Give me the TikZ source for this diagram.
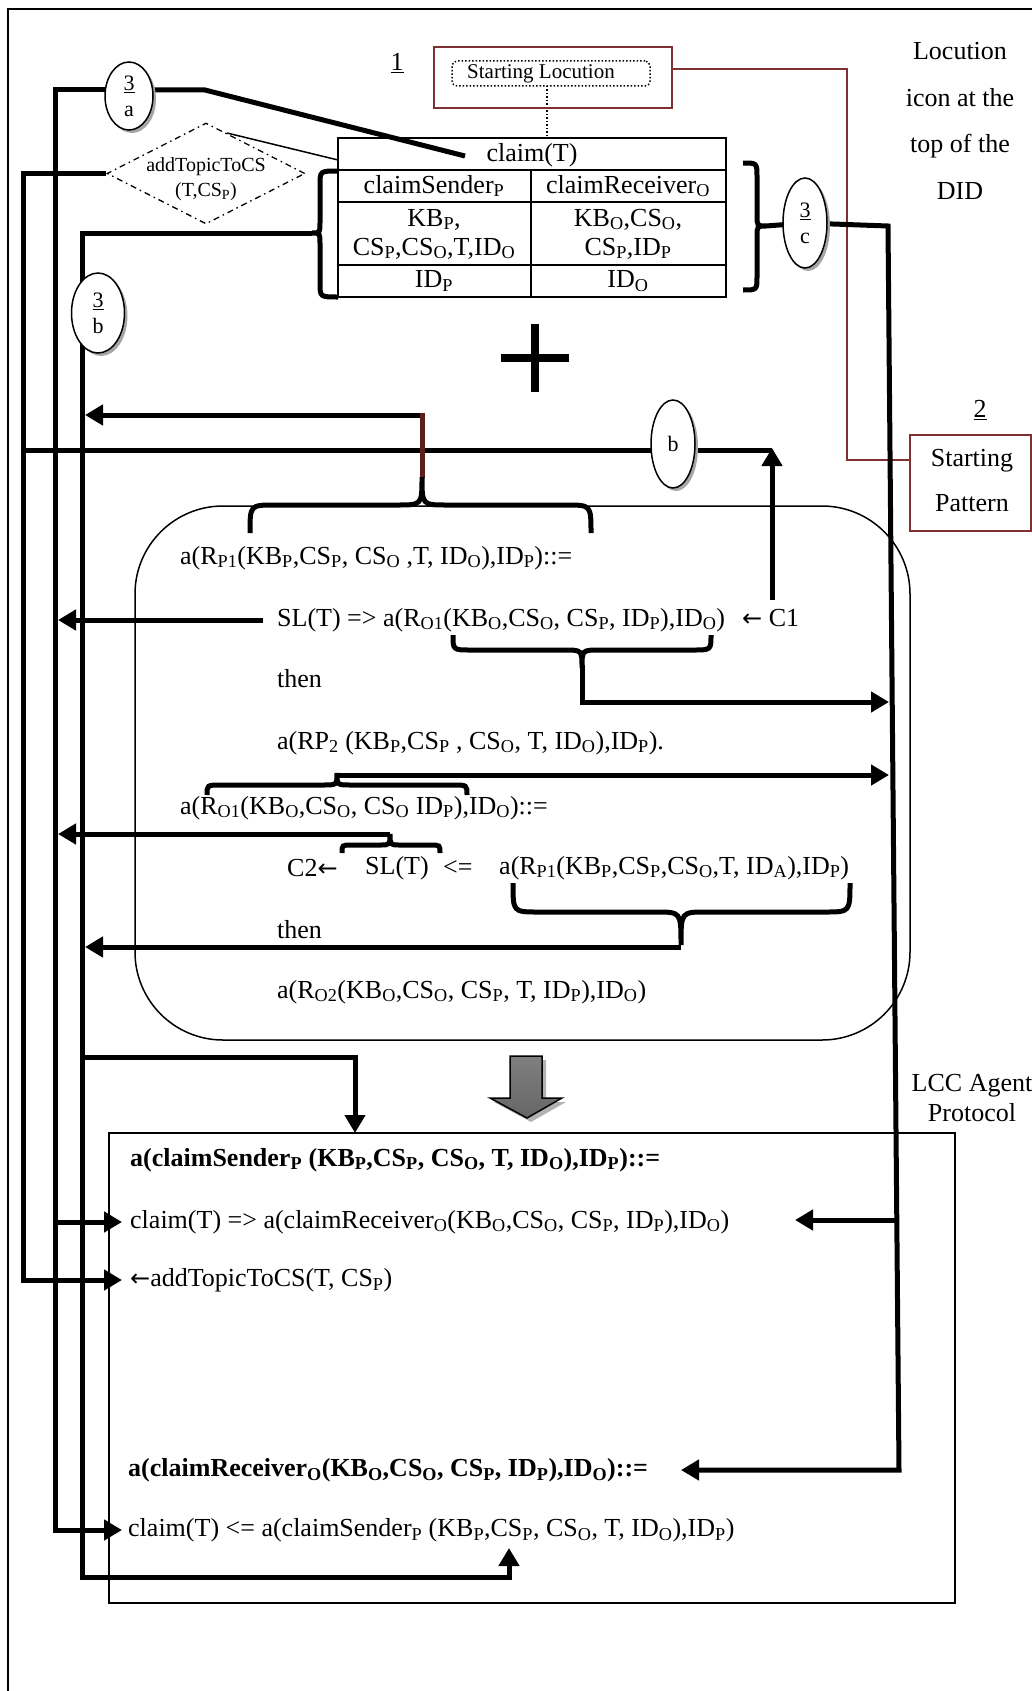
\documentclass[tikz,border=0pt]{standalone}
\usepackage{fontspec}
\setmainfont{Liberation Serif}
\newfontfamily\arrfont{DejaVu Sans}
\usetikzlibrary{arrows.meta,shapes.geometric,shadows}
\definecolor{brn}{RGB}{128,48,48}
\definecolor{dbrn}{RGB}{95,30,30}
\newcommand\sbs[1]{\textsubscript{#1}}
\newcommand\fsz[1]{\fontsize{#1pt}{#1pt}\selectfont}
\newcommand\larr{{\arrfont\fontsize{24pt}{24pt}\selectfont ←}}
\pgfdeclarelayer{bg}
\pgfsetlayers{bg,main}
\newcommand\hbrc[7]{\draw[brc] (#1,#4) .. controls (#1,#5) .. ({#1+#7},#5) -- ({#3-#7},#5) .. controls (#3,#5) .. (#3,#6) .. controls (#3,#5) .. ({#3+#7},#5) -- ({#2-#7},#5) .. controls (#2,#5) .. (#2,#4);}
\tikzset{
  conn/.style={line width=5pt},
  arr/.style={line width=5pt,-{Triangle[length=18pt,width=20pt]}},
  brc/.style={line width=5pt},
  txt/.style={anchor=west,font=\fsz{26},inner sep=0pt},
  tb/.style={font=\fontsize{26pt}{29pt}\selectfont,inner sep=0pt,align=center},
  ell/.style={ellipse,draw,line width=1.5pt,fill=white,inner sep=0pt,
    font=\fontsize{22pt}{26pt}\selectfont,align=center,
    drop shadow={shadow xshift=3pt,shadow yshift=-3pt,fill=gray!70,opacity=1}},
}
\begin{document}
\begin{tikzpicture}[x=1pt,y=-1pt]
\useasboundingbox (0,0) rectangle (1032,1691);
% outer frame
\draw[line width=2pt] (8,1700) -- (8,9) -- (1040,9);

% ---------- top: locution ----------
\node[font=\fsz{26}] (n1) at (397,63) {\underline{1}};
\node[draw=brn,line width=1.5pt,minimum width=238pt,minimum height=61pt,inner sep=0pt] (slbox) at (553,77.5) {};
\node[draw,dotted,line width=1.5pt,rounded corners=5pt,minimum width=198pt,minimum height=25pt,inner sep=0pt] (slin) at (551,73.5) {};
\node[font=\fsz{21},inner sep=0pt] (sltxt) at (541,74) {Starting Locution};
\node[font=\fontsize{26pt}{46.7pt}\selectfont,align=center,inner sep=0pt] (loc) at (960,121) {Locution\\icon at the\\top of the\\DID};

% table
\node[draw,line width=2pt,minimum width=388pt,minimum height=159pt,inner sep=0pt] (tbl) at (532,217.5) {};
\draw[line width=2pt] (338,170) -- (726,170) (338,202) -- (726,202) (338,265) -- (726,265) (531,170) -- (531,297);
\node[tb] (tc) at (532,155) {claim(T)};
\node[tb] (ts) at (434,186) {claimSender\sbs{P}};
\node[tb] (tr) at (628,186) {claimReceiver\sbs{O}};
\node[tb] (tsk) at (434,234) {KB\sbs{P},\\CS\sbs{P},CS\sbs{O},T,ID\sbs{O}};
\node[tb] (trk) at (628,234) {KB\sbs{O},CS\sbs{O},\\CS\sbs{P},ID\sbs{P}};
\node[tb] (tsi) at (434,281) {ID\sbs{P}};
\node[tb] (tri) at (628,281) {ID\sbs{O}};

% diamond
\node[diamond,draw,line width=1.3pt,dash pattern=on 6pt off 4pt on 1.5pt off 4pt,minimum width=198pt,minimum height=101pt,inner sep=0pt] (dia) at (206,173.5) {};
\node[font=\fontsize{20pt}{25pt}\selectfont,align=center,inner sep=0pt] (diatxt) at (206,179) {addTopicToCS\\(T,CS\sbs{P})};

% ellipses
\node[ell,minimum width=48pt,minimum height=68pt] (e3a) at (129,96) {\underline{3}\\a};
\node[ell,minimum width=53pt,minimum height=80pt] (e3b) at (98,313) {\underline{3}\\b};
\node[ell,minimum width=44pt,minimum height=90pt] (e3c) at (805,223) {\underline{3}\\c};
\node[ell,minimum width=44pt,minimum height=88pt] (eb) at (673,444) {b};

% plus
\fill (531,324) rectangle (539,392);
\fill (501,354) rectangle (569,362);

% starting pattern
\node[font=\fsz{26}] (n2) at (980,410) {\underline{2}};
\node[draw=brn,line width=1.5pt,minimum width=121pt,minimum height=96pt,inner sep=0pt] (spat) at (970.5,483) {};
\node[font=\fontsize{26pt}{45pt}\selectfont,align=center,inner sep=0pt] (spattxt) at (972,481) {Starting\\Pattern};

% DID rounded box
\node[draw,line width=1.5pt,rounded corners=88pt,minimum width=775pt,minimum height=534pt,inner sep=0pt] (did) at (522.5,773) {};
\node[txt] (t1) at (180,558) {a(R\sbs{P1}(KB\sbs{P},CS\sbs{P}, CS\sbs{O} ,T, ID\sbs{O}),ID\sbs{P})::=};
\node[txt] (t2) at (277,620) {SL(T) => a(R\sbs{O1}(KB\sbs{O},CS\sbs{O}, CS\sbs{P}, ID\sbs{P}),ID\sbs{O})};
\node[txt] (c1) at (742,618) {\larr{} C1};
\node[txt] (t3) at (277,679) {then};
\node[txt] (t4) at (277,743) {a(RP\sbs{2} (KB\sbs{P},CS\sbs{P} , CS\sbs{O}, T, ID\sbs{O}),ID\sbs{P}).};
\node[txt] (t5) at (180,808) {a(R\sbs{O1}(KB\sbs{O},CS\sbs{O}, CS\sbs{O} ID\sbs{P}),ID\sbs{O})::=};
\node[txt] (c2) at (287,868) {C2\larr};
\node[txt] (t6a) at (365,868) {SL(T)};
\node[txt] (t6b) at (443,868) {<=};
\node[txt] (t6c) at (499,868) {a(R\sbs{P1}(KB\sbs{P},CS\sbs{P},CS\sbs{O},T, ID\sbs{A}),ID\sbs{P})};
\node[txt] (t7) at (277,930) {then};
\node[txt] (t8) at (277,992) {a(R\sbs{O2}(KB\sbs{O},CS\sbs{O}, CS\sbs{P}, T, ID\sbs{P}),ID\sbs{O})};

% block arrow
\fill[gray!60] (514,1060) -- (546,1060) -- (546,1102) -- (566,1102) -- (531,1122) -- (494,1102) -- (514,1102) -- cycle;
\shade[top color=black!50,middle color=black,bottom color=black!60,draw=black,line width=1.5pt] (510,1056) -- (542,1056) -- (542,1098) -- (562,1098) -- (527,1118) -- (490,1098) -- (510,1098) -- cycle;

% LCC box
\node[font=\fontsize{26pt}{30pt}\selectfont,align=center,inner sep=0pt] (lccl) at (972,1098) {LCC Agent\\Protocol};
\node[draw,line width=1.5pt,minimum width=846pt,minimum height=470pt,inner sep=0pt] (lcc) at (532,1368) {};
\node[txt,font=\fsz{26}\bfseries] (l1) at (130,1160) {a(claimSender\sbs{P} (KB\sbs{P},CS\sbs{P}, CS\sbs{O}, T, ID\sbs{O}),ID\sbs{P})::=};
\node[txt] (l2) at (130,1222) {claim(T) => a(claimReceiver\sbs{O}(KB\sbs{O},CS\sbs{O}, CS\sbs{P}, ID\sbs{P}),ID\sbs{O})};
\node[txt] (l3) at (130,1280) {\larr addTopicToCS(T, CS\sbs{P})};
\node[txt,font=\fsz{26}\bfseries] (l4) at (128,1470) {a(claimReceiver\sbs{O}(KB\sbs{O},CS\sbs{O}, CS\sbs{P}, ID\sbs{P}),ID\sbs{O})::=};
\node[txt] (l5) at (128,1530) {claim(T) <= a(claimSender\sbs{P} (KB\sbs{P},CS\sbs{P}, CS\sbs{O}, T, ID\sbs{O}),ID\sbs{P})};

% braces
\hbrc{250}{591}{422}{533}{505}{477}{25}
\hbrc{453}{711}{582}{635}{650}{668}{18}
\hbrc{207}{467}{337}{795}{785}{773}{14}
\hbrc{342}{440}{390}{853}{845}{834}{10}
\hbrc{513}{850}{681}{883}{912}{945}{25}
\draw[brc] (338,171) .. controls (320,171) .. (320,185) -- (320,222) .. controls (320,233) .. (312,233) .. controls (320,233) .. (320,244) -- (320,283) .. controls (320,297) .. (338,297);
\draw[brc] (743,163) .. controls (757,163) .. (757,177) -- (757,215) .. controls (757,226) .. (766,226) .. controls (757,226) .. (757,237) -- (757,276) .. controls (757,290) .. (743,290);

% ---------- connectors (behind) ----------
\begin{pgfonlayer}{bg}
\fill[white] (0,0) rectangle (1032,1691);
% brown / dotted
\draw[brn,line width=1.5pt] (672,69) -- (847,69) -- (847,460) -- (spat.west |- 0,460);
\draw[dotted,line width=1.5pt] (547,86) -- (tbl.north -| 547,0);
\draw[line width=1.5pt] (227,133) -- (338,160);
% line 3a
\draw[conn] (e3a.center |- 0,90) -- (205,90) -- (465,156);
\draw[arr] (e3a.center |- 0,90) -- (55,90) -- (55,1530) -- (122,1530);
\draw[arr] (55,1222) -- (122,1222);
\draw[arr] (263,620) -- (58,620);
\draw[arr] (390,834) -- (58,834);
% addTopic line
\draw[arr] (dia.west) -- (23,173.5) -- (23,1280) -- (122,1280);
\draw[conn] (23,450) -- (eb.center |- 0,450) -- (772,450);
\draw[arr] (772,600) -- (772,448);
% line 3b
\draw[arr] (312,233) -- (82,233) -- (82,1577) -- (509,1577) -- (509,1548);
\draw[arr] (82,1057) -- (355,1057) -- (355,1133);
\draw[arr] (422,415) -- (85,415);
\draw[arr] (681,947) -- (85,947);
\draw[dbrn,line width=5pt] (422,413) -- (422,478);
% line 3c
\draw[conn] (766,226) -- (e3c.center);
\draw[arr] (e3c.center) -- (888,226) -- (899,1470) -- (681,1470);
\draw[arr] (896,1220) -- (795,1220);
\draw[arr] (337,775) -- (889,775);
\draw[arr] (582,665) -- (582,702) -- (889,702);
\end{pgfonlayer}
\end{tikzpicture}
\end{document}
